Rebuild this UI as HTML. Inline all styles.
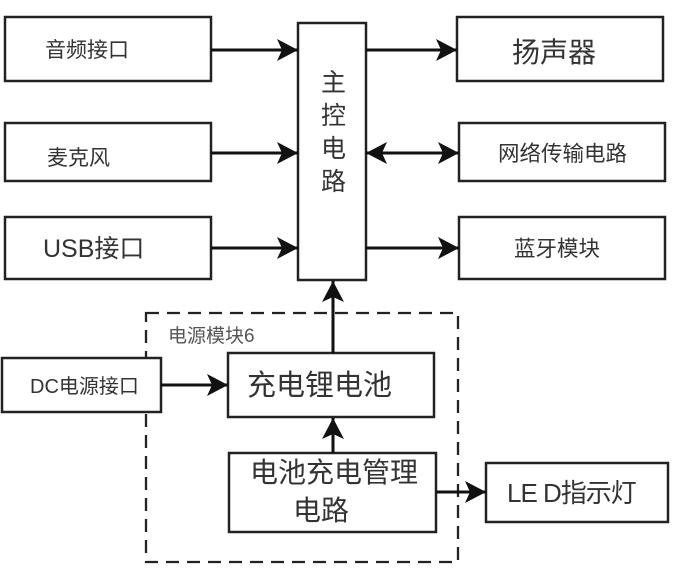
<!DOCTYPE html>
<html><head><meta charset="utf-8"><style>
html,body{margin:0;padding:0;background:#fff;}
svg{display:block;}
text{font-family:"Liberation Sans","Noto Sans CJK SC",sans-serif;fill:#333;}
</style></head><body>
<svg width="678" height="573" viewBox="0 0 678 573" xmlns="http://www.w3.org/2000/svg">
<defs>
<marker id="ah" markerWidth="22" markerHeight="24" refX="21" refY="12" orient="auto" markerUnits="userSpaceOnUse">
<path d="M0,1 L21,12 L0,23 L5,12 Z" fill="#111"/>
</marker>
<marker id="as" markerWidth="22" markerHeight="24" refX="0" refY="12" orient="auto" markerUnits="userSpaceOnUse">
<path d="M21,1 L0,12 L21,23 L16,12 Z" fill="#111"/>
</marker>
</defs>
<g fill="none" stroke="#222" stroke-width="2.5">
<!-- dashed power module -->
<rect x="146" y="313" width="312" height="249" stroke-dasharray="13,8" stroke-width="2.3"/>
</g>
<g fill="#fff" stroke="#222" stroke-width="2.5">
<rect x="5" y="17" width="206" height="64"/>
<rect x="5" y="123" width="206" height="58"/>
<rect x="5" y="217" width="206" height="62"/>
<rect x="298" y="23" width="68" height="257"/>
<rect x="457" y="17" width="206" height="64"/>
<rect x="459" y="123" width="206" height="58"/>
<rect x="459" y="217" width="206" height="62"/>
<rect x="2" y="358" width="159" height="54"/>
<rect x="228" y="353" width="206" height="64"/>
<rect x="229" y="453" width="207" height="79"/>
<rect x="486" y="463" width="182" height="59"/>
</g>
<g stroke="#111" stroke-width="3" fill="none">
<line x1="211" y1="50" x2="298" y2="50" marker-end="url(#ah)"/>
<line x1="211" y1="153" x2="298" y2="153" marker-end="url(#ah)"/>
<line x1="211" y1="248" x2="298" y2="248" marker-end="url(#ah)"/>
<line x1="366" y1="50" x2="457" y2="50" marker-end="url(#ah)"/>
<line x1="366" y1="153" x2="459" y2="153" marker-end="url(#ah)" marker-start="url(#as)"/>
<line x1="366" y1="248" x2="459" y2="248" marker-end="url(#ah)"/>
<line x1="161" y1="385" x2="228" y2="385" marker-end="url(#ah)"/>
<line x1="333" y1="353" x2="333" y2="281" marker-end="url(#ah)"/>
<line x1="333" y1="453" x2="333" y2="418" marker-end="url(#ah)"/>
<line x1="436" y1="492" x2="486" y2="492" marker-end="url(#ah)"/>
</g>
<g>
<text x="45" y="57" font-size="21">音频接口</text>
<text x="47" y="165" font-size="21">麦克风</text>
<text x="43" y="257" font-size="25">USB接口</text>
<text x="512" y="62" font-size="28">扬声器</text>
<text x="498" y="161" font-size="21.5">网络传输电路</text>
<text x="514" y="256" font-size="21.5">蓝牙模块</text>
<text x="321" y="91" font-size="25">主</text>
<text x="321" y="124" font-size="25">控</text>
<text x="321" y="157" font-size="25">电</text>
<text x="321" y="190" font-size="25">路</text>
<text x="168" y="342" font-size="19" style="fill:#555">电源模块6</text>
<text x="30" y="393" font-size="20">DC电源接口</text>
<text x="247" y="395" font-size="29">充电锂电池</text>
<text x="250" y="482" font-size="28">电池充电管理</text>
<text x="293" y="520" font-size="28">电路</text>
<text x="507" y="502" font-size="26" letter-spacing="-1">LE D指示灯</text>
</g>
</svg>
</body></html>
